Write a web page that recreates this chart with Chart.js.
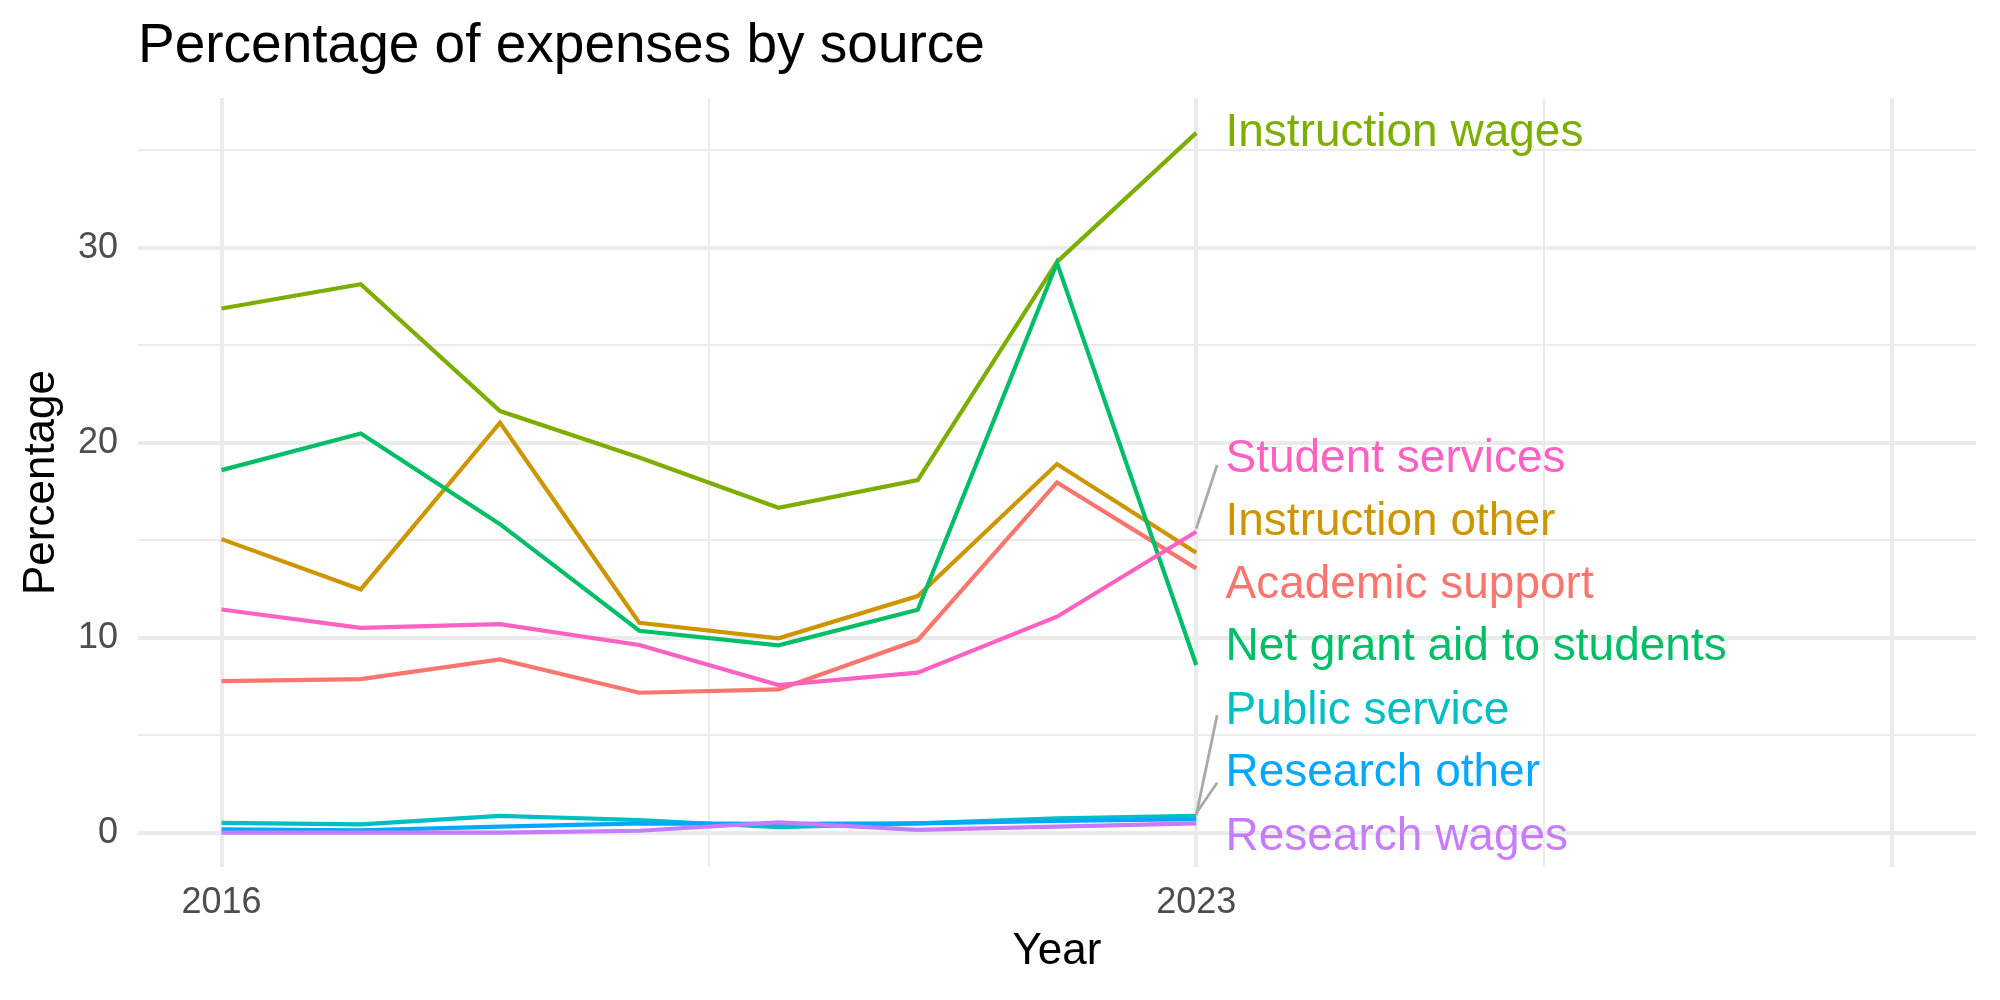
<!DOCTYPE html>
<html>
<head>
<meta charset="utf-8">
<script src="https://cdn.jsdelivr.net/npm/chart.js@4.4.1/dist/chart.umd.min.js"></script>
<style>
  html, body { margin: 0; padding: 0; background: #ffffff; }
  #wrap { width: 2000px; height: 1000px; }
</style>
</head>
<body>
<div id="wrap"><canvas id="chart" width="2000" height="1000"></canvas></div>
<script>
// ---------------- data ----------------
const years = [2016, 2017, 2018, 2019, 2020, 2021, 2022, 2023];

const academicSupport  = [7.78, 7.88, 8.89, 7.18, 7.35, 9.88, 17.97, 13.56];
const instructionOther = [15.06, 12.48, 21.03, 10.77, 9.97, 12.14, 18.91, 14.36];
const instructionWages = [26.89, 28.14, 21.63, 19.25, 16.67, 18.09, 29.28, 35.90];
const netGrantAid      = [18.60, 20.48, 15.83, 10.36, 9.61, 11.44, 29.23, 8.60];
const publicService    = [0.50, 0.43, 0.86, 0.65, 0.28, 0.48, 0.74, 0.86];
const researchOther    = [0.17, 0.12, 0.31, 0.48, 0.46, 0.48, 0.60, 0.69];
const researchWages    = [0.00, 0.00, 0.00, 0.10, 0.53, 0.14, 0.31, 0.48];
const studentServices  = [11.45, 10.51, 10.70, 9.63, 7.57, 8.21, 11.08, 15.44];

const seriesNames = ['Academic support', 'Instruction other', 'Instruction wages',
  'Net grant aid to students', 'Public service', 'Research other', 'Research wages', 'Student services'];
const seriesValues = [academicSupport, instructionOther, instructionWages, netGrantAid,
  publicService, researchOther, researchWages, studentServices];
const seriesColors = ['#F8766D', '#CD9600', '#7CAE00', '#00BE67', '#00BFC4', '#00A9FF', '#C77CFF', '#FF61C3'];

// end-of-line label positions (value units, after repelling)
const labelYear = 2023.21;
const labelValues = [12.70, 15.93, 35.88, 9.50, 6.24, 3.06, -0.22, 19.18];

// repel connector segments (value units)
const segmentFromYear = 2023;
const segmentToYear = 2023.15;
const segmentFromValue = [15.60, 0.90, 1.00];
const segmentToValue = [18.86, 6.03, 2.56];

// axes
const xGridValues = [2016, 2019.5, 2023, 2025.5, 2028];
const xMajorValues = [2016, 2023, 2028];
const xTickLabels = [2016, 2023];
const yGridValues = [0, 5, 10, 15, 20, 25, 30, 35];
const yTickLabels = [0, 10, 20, 30];

// ---------------- chart ----------------
const FONT = "'Liberation Sans', Arial, Helvetica, sans-serif";
Chart.defaults.font.family = FONT;

const datasets = seriesNames.map((name, i) => ({
  label: name,
  data: years.map((yr, j) => ({ x: yr, y: seriesValues[i][j] })),
  borderColor: seriesColors[i],
  backgroundColor: seriesColors[i],
  borderWidth: 4.2,
  pointRadius: 0,
  tension: 0,
  fill: false,
  order: seriesNames.length - i
}));

segmentFromValue.forEach((v, k) => {
  datasets.push({
    label: 'segment' + k,
    data: [{ x: segmentFromYear, y: v }, { x: segmentToYear, y: segmentToValue[k] }],
    borderColor: '#A9A9A9',
    borderWidth: 2.8,
    pointRadius: 0,
    fill: false,
    order: -1,
    clip: false
  });
});

const labelPlugin = {
  id: 'endLabels',
  afterDatasetsDraw(chart) {
    const { ctx, scales: { x, y } } = chart;
    ctx.save();
    ctx.font = '46px ' + FONT;
    ctx.textAlign = 'left';
    ctx.textBaseline = 'middle';
    seriesNames.forEach((name, i) => {
      ctx.fillStyle = seriesColors[i];
      ctx.fillText(name, x.getPixelForValue(labelYear), y.getPixelForValue(labelValues[i]));
    });
    ctx.restore();
  }
};

new Chart(document.getElementById('chart'), {
  type: 'line',
  data: { datasets },
  options: {
    responsive: false,
    animation: false,
    devicePixelRatio: 1,
    layout: { padding: { left: 0, right: 24, top: 0, bottom: 0 } },
    plugins: {
      legend: { display: false },
      tooltip: { enabled: false },
      title: {
        display: true,
        text: 'Percentage of expenses by source',
        align: 'start',
        fullSize: false,
        color: '#000000',
        font: { size: 55, weight: 'normal', family: FONT },
        padding: { top: 14, bottom: 18 }
      }
    },
    scales: {
      x: {
        type: 'linear',
        min: 2015.4,
        max: 2028.6,
        afterBuildTicks: (s) => { s.ticks = xGridValues.map(v => ({ value: v })); },
        afterFit: (s) => { s.height = 133; },
        ticks: {
          autoSkip: false, maxRotation: 0, minRotation: 0,
          padding: 14,
          color: '#4D4D4D',
          font: { size: 36, family: FONT },
          callback: (v) => xTickLabels.includes(v) ? String(v) : ''
        },
        grid: {
          color: '#EBEBEB',
          lineWidth: (c) => (c.tick && xMajorValues.includes(c.tick.value)) ? 4 : 2,
          drawTicks: false
        },
        border: { display: false },
        title: {
          display: true, text: 'Year', color: '#000000',
          font: { size: 44, family: FONT },
          padding: { top: 0, bottom: 22 }
        }
      },
      y: {
        type: 'linear',
        min: -1.76,
        max: 37.69,
        afterBuildTicks: (s) => { s.ticks = yGridValues.map(v => ({ value: v })); },
        afterFit: (s) => { s.width = 138; },
        ticks: {
          autoSkip: false,
          padding: 20,
          color: '#4D4D4D',
          font: { size: 36, family: FONT },
          callback: (v) => yTickLabels.includes(v) ? String(v) : ''
        },
        grid: {
          color: '#EBEBEB',
          lineWidth: (c) => (c.tick && yTickLabels.includes(c.tick.value)) ? 4 : 2,
          drawTicks: false
        },
        border: { display: false },
        title: {
          display: true, text: 'Percentage', color: '#000000',
          font: { size: 44, family: FONT },
          padding: { top: 15, bottom: 0 }
        }
      }
    }
  },
  plugins: [labelPlugin]
});
</script>
</body>
</html>
